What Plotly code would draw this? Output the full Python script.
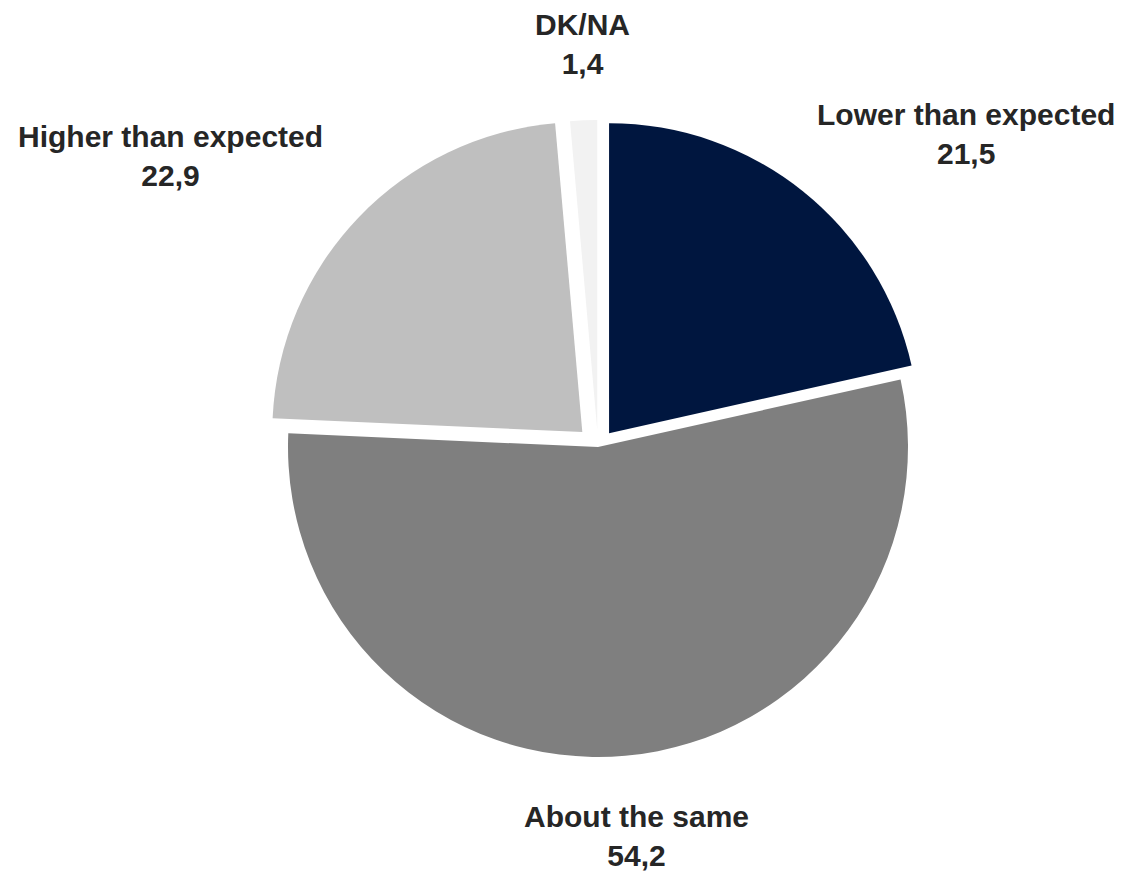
import plotly.graph_objects as go

labels = ["Lower than expected", "About the same", "Higher than expected", "DK/NA"]
values = [21.5, 54.2, 22.9, 1.4]
colors = ["#00163F", "#7F7F7F", "#BFBFBF", "#F2F2F2"]
pulls = [0.057, 0.0, 0.07, 0.055]

# label placement on the page (pixel centre of each text block)
label_xy = [(966, 134), (636, 836), (170, 156), (582, 44)]

# the page body has an 8px margin, so the figure is drawn offset by 8px
OFF = 8
W, H = 1120, 867

# pie centre and radius on the page
cx, cy, r = 598, 447, 310
half = r * (1 + max(pulls))

fig = go.Figure(go.Pie(
    labels=labels,
    values=values,
    sort=False,
    direction="clockwise",
    rotation=0,
    pull=pulls,
    marker=dict(colors=colors, line=dict(color="white", width=0)),
    textinfo="none",
    hoverinfo="label+value",
    domain=dict(x=[(cx - OFF - half) / W, (cx - OFF + half) / W],
                y=[1 - (cy - OFF + half) / H, 1 - (cy - OFF - half) / H]),
    showlegend=False,
))

for lab, val, (px, py) in zip(labels, values, label_xy):
    txt = f"<b>{lab}</b><br><b>{val:.1f}</b>".replace(".", ",")
    fig.add_annotation(
        x=(px - OFF) / W, y=1 - (py - OFF) / H, xref="paper", yref="paper",
        text=txt, showarrow=False, xanchor="center", yanchor="middle",
        align="center",
        font=dict(family="Liberation Sans, Arial, sans-serif", size=30, color="#262626"),
    )

fig.update_layout(
    width=W,
    height=H,
    margin=dict(l=0, r=0, t=0, b=0),
    paper_bgcolor="white",
    plot_bgcolor="white",
)

fig.write_html("out.html")
